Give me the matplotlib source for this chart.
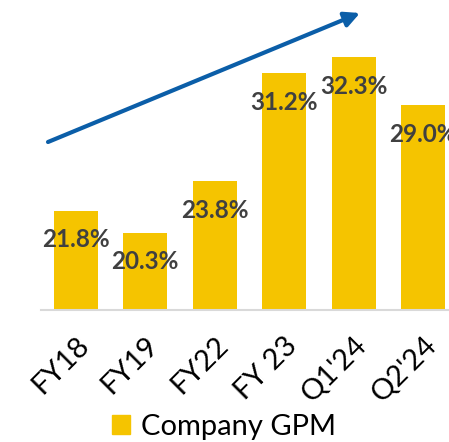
import matplotlib.pyplot as plt
from matplotlib.patches import Patch

# data
periods = ['FY18', 'FY19', 'FY22', 'FY 23', "Q1'24", "Q2'24"]
gpm = [21.8, 20.3, 23.8, 31.2, 32.3, 29.0]
series_name = 'Company GPM'

bar_color = '#F5C400'
label_color = '#404040'
arrow_color = '#0B5EA8'

plt.rcParams['font.family'] = ['Lato', 'DejaVu Sans']

fig = plt.figure(figsize=(4.49, 4.42), dpi=100)
ax = fig.add_axes([41 / 449, 132 / 442, 417 / 449, 306.8 / 442])

x = range(len(periods))
ax.bar(x, gpm, width=0.63, color=bar_color, zorder=2)
for xi, v in zip(x, gpm):
    ax.text(xi, v - 2.0, f'{v:.1f}%', ha='center', va='center',
            fontsize=17.5, fontweight='bold', color=label_color, zorder=3)

ax.set_xlim(-0.5, 5.5)
ax.set_ylim(15, 36)
ax.set_xticks(list(x))
ax.set_xticklabels(periods, rotation=45, ha='right', rotation_mode='anchor',
                   fontsize=21, color='black')
ax.tick_params(axis='x', length=0, pad=16)
ax.set_yticks([])
for s in ['top', 'right', 'left']:
    ax.spines[s].set_visible(False)
ax.spines['bottom'].set_color('#D9D9D9')
ax.spines['bottom'].set_linewidth(1.5)

# trend arrow
ax.annotate('', xy=(360, 442 - 13), xytext=(48, 442 - 142),
            xycoords='figure pixels', textcoords='figure pixels',
            arrowprops=dict(arrowstyle='-|>,head_length=0.9,head_width=0.45',
                            color=arrow_color, lw=3, shrinkA=0, shrinkB=0))

fig.legend(handles=[Patch(color=bar_color, label=series_name)],
           loc='center', bbox_to_anchor=(224 / 449, 1 - 427 / 442),
           frameon=False, fontsize=21, handlelength=0.62, handleheight=0.62,
           handletextpad=0.35)

fig.savefig('out.png', dpi=100)
